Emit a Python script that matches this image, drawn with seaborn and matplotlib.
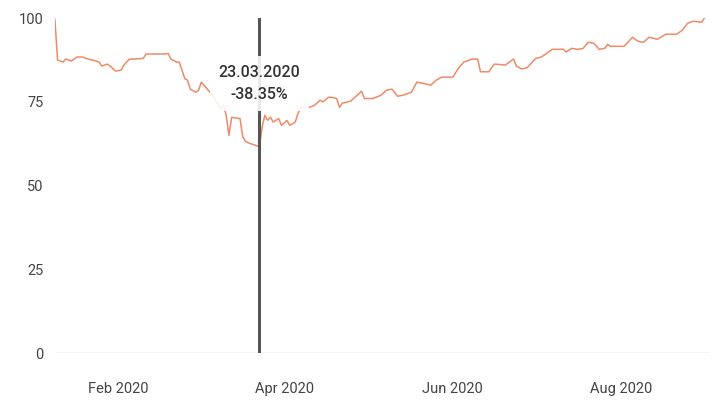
import pandas as pd
import seaborn as sns
import matplotlib.pyplot as plt
import matplotlib.dates as mdates

# values (indexed, first day = 100)
dates = [
    "2020-01-09", "2020-01-10", "2020-01-12", "2020-01-13", "2020-01-15", "2020-01-17",
    "2020-01-19", "2020-01-21", "2020-01-24", "2020-01-25", "2020-01-26", "2020-01-28",
    "2020-01-29", "2020-01-31", "2020-02-02", "2020-02-03", "2020-02-05", "2020-02-07",
    "2020-02-10", "2020-02-11", "2020-02-14", "2020-02-18", "2020-02-19", "2020-02-20",
    "2020-02-22", "2020-02-23", "2020-02-24", "2020-02-25", "2020-02-26", "2020-02-27",
    "2020-02-29", "2020-03-01", "2020-03-02", "2020-03-04", "2020-03-06", "2020-03-09",
    "2020-03-10", "2020-03-11", "2020-03-12", "2020-03-13", "2020-03-16", "2020-03-17",
    "2020-03-18", "2020-03-19", "2020-03-20", "2020-03-23", "2020-03-24", "2020-03-25",
    "2020-03-26", "2020-03-27", "2020-03-28", "2020-03-30", "2020-03-31", "2020-04-02",
    "2020-04-03", "2020-04-05", "2020-04-06", "2020-04-07", "2020-04-09", "2020-04-12",
    "2020-04-14", "2020-04-15", "2020-04-17", "2020-04-18", "2020-04-20", "2020-04-21",
    "2020-04-22", "2020-04-25", "2020-04-27", "2020-04-29", "2020-04-30", "2020-05-03",
    "2020-05-06", "2020-05-08", "2020-05-10", "2020-05-12", "2020-05-14", "2020-05-17",
    "2020-05-19", "2020-05-21", "2020-05-24", "2020-05-26", "2020-05-28", "2020-06-01",
    "2020-06-03", "2020-06-05", "2020-06-08", "2020-06-10", "2020-06-11", "2020-06-14",
    "2020-06-16", "2020-06-20", "2020-06-23", "2020-06-24", "2020-06-26", "2020-06-28",
    "2020-07-01", "2020-07-03", "2020-07-05", "2020-07-07", "2020-07-11", "2020-07-12",
    "2020-07-14", "2020-07-16", "2020-07-18", "2020-07-20", "2020-07-22", "2020-07-24",
    "2020-07-26", "2020-07-27", "2020-07-28", "2020-07-30", "2020-08-02", "2020-08-05",
    "2020-08-07", "2020-08-09", "2020-08-11", "2020-08-14", "2020-08-17", "2020-08-21",
    "2020-08-23", "2020-08-25", "2020-08-27", "2020-08-30", "2020-08-31",
]
values = [
    100, 87.5, 86.9, 87.8, 87.2, 88.4,
    88.4, 87.8, 87.2, 86.9, 85.7, 86.3,
    85.7, 84.2, 84.5, 86.0, 87.8, 87.8,
    88.0, 89.3, 89.3, 89.3, 89.5, 87.8,
    86.9, 86.9, 84.5, 82.0, 81.5, 78.8,
    77.9, 78.5, 80.9, 79.0, 77.0, 73.0,
    74.0, 71.0, 65.0, 70.4, 70.0, 64.5,
    63.2, 62.8, 62.5, 61.65, 67.5, 71.0,
    69.5, 70.4, 69.0, 70.0, 68.0, 69.5,
    68.0, 69.0, 71.6, 73.4, 73.0, 74.0,
    75.5, 75.0, 76.4, 76.4, 76.0, 73.4,
    74.6, 75.2, 76.7, 78.2, 76.0, 76.0,
    77.0, 78.5, 78.8, 76.7, 77.0, 77.9,
    80.9, 80.6, 80.0, 81.5, 82.4, 82.4,
    85.0, 86.9, 87.8, 87.8, 84.0, 84.0,
    86.3, 86.0, 87.8, 85.7, 84.8, 85.3,
    88.0, 88.4, 89.5, 90.7, 90.7, 89.9,
    91.0, 90.7, 90.9, 92.8, 92.5, 90.7,
    91.0, 92.2, 91.6, 91.6, 91.6, 94.3,
    93.1, 92.8, 94.3, 93.7, 95.2, 95.2,
    96.4, 98.5, 99.1, 98.8, 100,
]
marker_date = "2020-03-23"
marker_label = "23.03.2020\n-38.35%"
y_ticks = [0, 25, 50, 75, 100]
x_ticks = ["2020-02-01", "2020-04-01", "2020-06-01", "2020-08-01"]

df = pd.DataFrame({"date": pd.to_datetime(dates), "value": values})

sns.set_style("white")
plt.rcParams['font.family'] = ['Roboto', 'DejaVu Sans']

fig = plt.figure(figsize=(7.12, 4.04), dpi=100)
ax = fig.add_axes([0.077, 0.126, 0.92, 0.829])

sns.lineplot(data=df, x="date", y="value", ax=ax, color="#ee8a68", linewidth=1.1)

md = pd.Timestamp(marker_date)
ax.axvline(md, color="#555555", linewidth=2.2, zorder=3)
ax.axhline(0, color="#cccccc", linewidth=1, zorder=1)

# label sits on a semi transparent white box that fades the lines below it
ax.text(md, 80.5, marker_label, ha="center", va="center", fontsize=11.5,
        fontweight="medium", color="#333333", linespacing=1.55, zorder=5,
        bbox=dict(boxstyle="square,pad=0.55", facecolor="white",
                  edgecolor="none", alpha=0.88))

ax.set_ylim(0, 100)
ax.set_xlim(pd.Timestamp("2020-01-09"), pd.Timestamp("2020-09-02"))
ax.set_yticks(y_ticks)
ax.set_xticks(pd.to_datetime(x_ticks))
ax.xaxis.set_major_formatter(mdates.DateFormatter("%b %Y"))
ax.tick_params(axis="both", length=0, labelsize=10.5, labelcolor="#444444")
ax.tick_params(axis="x", pad=21)
ax.tick_params(axis="y", pad=8)
ax.set_xlabel("")
ax.set_ylabel("")
sns.despine(ax=ax, left=True, bottom=True)

fig.savefig("out.png", dpi=100)
